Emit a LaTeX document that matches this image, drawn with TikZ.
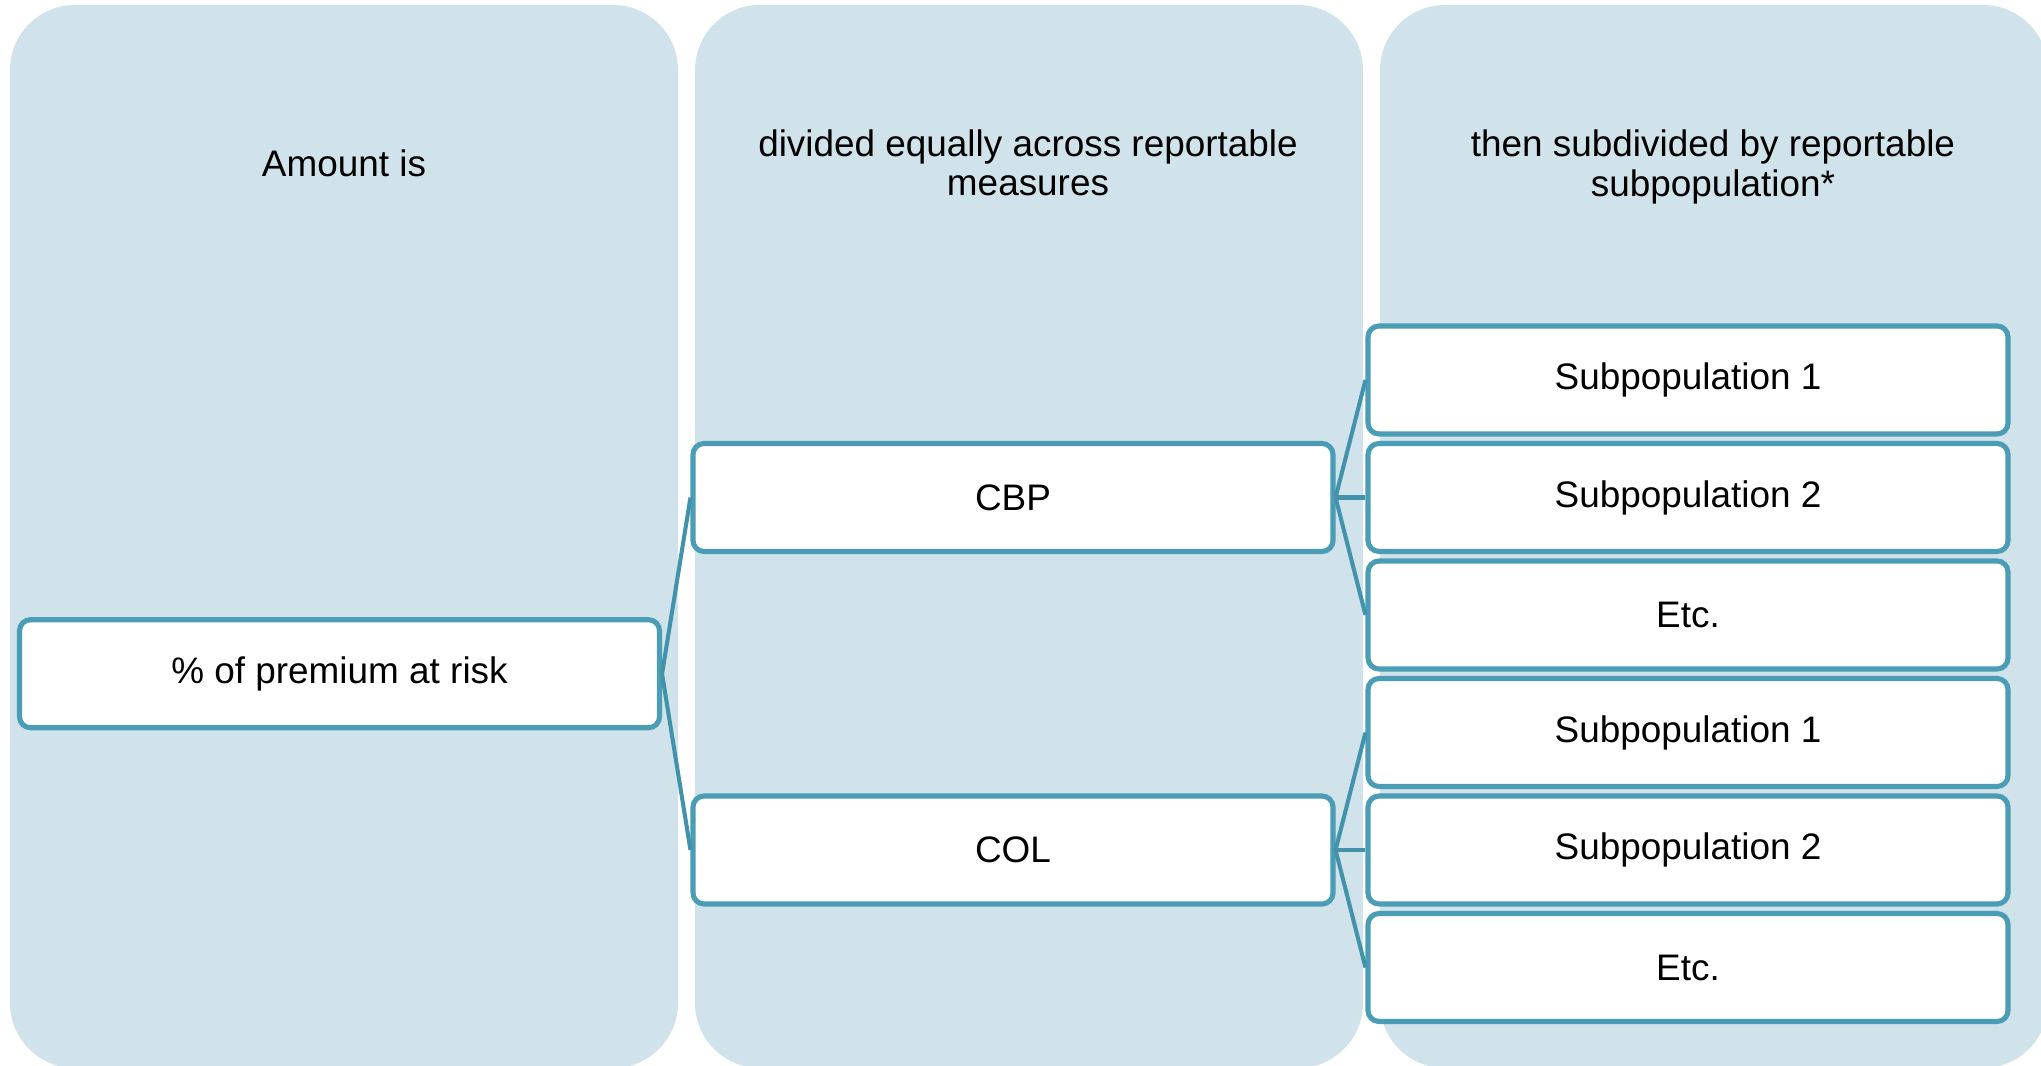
\documentclass[tikz,border=0pt]{standalone}
\usepackage{fontspec}
\setmainfont{Liberation Sans}
\usepackage{tikz}
\usepackage{xcolor}

\definecolor{laneblue}{HTML}{D0E2EA}
\definecolor{edgeteal}{HTML}{4A9DB5}
\definecolor{linkteal}{HTML}{4192AA}

\tikzset{
  lane/.style = {fill = laneblue, rounded corners = 0.65cm},
  lanehead/.style = {align = center, font = \fontsize{10.5pt}{11.2pt}\selectfont},
  itembox/.style = {draw = edgeteal, fill = white, line width = 1.45pt, rounded corners = 0.11cm,
    minimum width = 6.40cm, minimum height = 1.08cm, font = \fontsize{10.5pt}{12pt}\selectfont},
  link/.style = {draw = linkteal, line width = 1.15pt}
}

\begin{document}
\begin{tikzpicture}

\useasboundingbox (0, 0) rectangle (20.41, 10.65);

% three background lanes
\path [lane] (0.10, -0.03) rectangle (6.78, 10.60);
\path [lane] (6.95, -0.03) rectangle (13.63, 10.60);
\path [lane] (13.80, -0.03) rectangle (20.48, 10.60);

\node [lanehead] (head0) at (3.44, 9.02) {Amount is};
\node [lanehead] (head1) at (10.28, 9.02) {divided equally across reportable\\measures};
\node [lanehead] (head2) at (17.13, 8.98) {then subdivided by reportable\\subpopulation*};

\node [itembox] (root) at (3.395, 3.9125) {\% of premium at risk};

\node [itembox] (cbp) at (10.13, 5.675) {CBP};
\node [itembox] (col) at (10.13, 2.15) {COL};

\node [itembox] (cbp1) at (16.88, 6.85) {Subpopulation 1};
\node [itembox] (cbp2) at (16.88, 5.675) {Subpopulation 2};
\node [itembox] (cbp3) at (16.88, 4.50) {Etc.};
\node [itembox] (col1) at (16.88, 3.325) {Subpopulation 1};
\node [itembox] (col2) at (16.88, 2.15) {Subpopulation 2};
\node [itembox] (col3) at (16.88, 0.975) {Etc.};

\path [link] (root.east) -- (cbp.west);
\path [link] (root.east) -- (col.west);

\path [link] (cbp.east) -- (cbp1.west);
\path [link] (cbp.east) -- (cbp2.west);
\path [link] (cbp.east) -- (cbp3.west);

\path [link] (col.east) -- (col1.west);
\path [link] (col.east) -- (col2.west);
\path [link] (col.east) -- (col3.west);
\end{tikzpicture}
\end{document}
